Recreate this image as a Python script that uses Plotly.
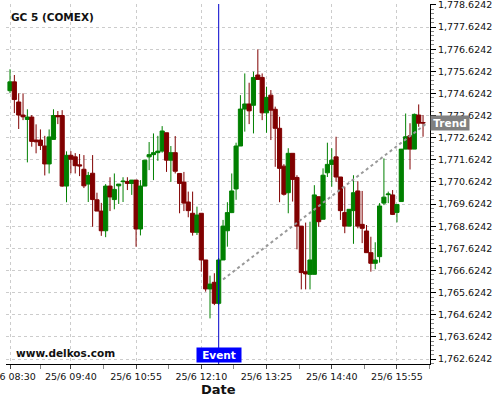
import pandas as pd
import plotly.graph_objects as go

# ---- data -------------------------------------------------------------
start_time = "2021-06-25 08:30"
n_candles = 96  # 5-minute candles 08:30 .. 16:25
times = pd.date_range(start_time, periods=n_candles, freq="5min")

opens = [1774.75, 1775.15, 1774.24, 1773.65, 1773.45, 1773.56, 1772.52, 1772.52, 1772.25, 1771.44,
         1772.55, 1773.63, 1773.63, 1770.44, 1771.83, 1771.76, 1771.40, 1771.20, 1770.53, 1771.02,
         1769.82, 1769.31, 1768.42, 1770.44, 1769.83, 1770.45, 1770.64, 1770.65, 1770.56, 1770.71,
         1768.50, 1770.44, 1771.76, 1771.86, 1771.95, 1772.02, 1772.85, 1771.61, 1771.95, 1771.01,
         1770.62, 1769.72, 1769.21, 1768.35, 1769.21, 1767.10, 1765.79, 1766.09, 1765.14, 1767.10,
         1768.42, 1769.24, 1770.31, 1772.25, 1773.92, 1774.15, 1774.09, 1775.46, 1775.35, 1773.75,
         1774.55, 1773.91, 1773.05, 1771.34, 1770.14, 1771.92, 1770.83, 1768.63, 1766.57, 1766.45,
         1766.45, 1769.96, 1768.94, 1771.04, 1771.42, 1771.76, 1770.85, 1769.24, 1768.63, 1769.33,
         1770.22, 1768.71, 1768.41, 1767.43, 1766.95, 1767.25, 1769.67, 1770.05, 1770.04, 1769.25,
         1769.74, 1772.11, 1772.71, 1772.11, 1773.65, 1773.31]
highs = [1775.72, 1775.46, 1774.63, 1774.63, 1773.91, 1773.65, 1773.23, 1773.00, 1772.71, 1773.00,
         1773.91, 1773.83, 1773.87, 1772.01, 1772.02, 1771.93, 1771.89, 1771.84, 1771.08, 1771.84,
         1770.14, 1769.68, 1770.53, 1770.84, 1771.01, 1770.53, 1770.84, 1770.84, 1770.71, 1770.71,
         1770.71, 1771.61, 1772.43, 1772.82, 1772.71, 1773.15, 1772.85, 1772.25, 1772.70, 1771.01,
         1771.08, 1770.19, 1770.19, 1769.51, 1769.21, 1767.10, 1766.39, 1766.50, 1767.19, 1768.91,
         1769.71, 1771.01, 1772.40, 1774.55, 1775.53, 1775.11, 1775.61, 1776.62, 1775.53, 1774.93,
         1774.78, 1774.03, 1773.57, 1771.43, 1772.15, 1771.92, 1770.93, 1768.63, 1768.79, 1768.83,
         1770.48, 1769.96, 1771.24, 1772.40, 1772.15, 1772.67, 1770.85, 1770.41, 1769.39, 1770.93,
         1770.66, 1770.22, 1768.68, 1768.15, 1767.90, 1769.67, 1771.69, 1770.19, 1770.26, 1769.61,
         1772.11, 1773.72, 1773.28, 1773.72, 1774.13, 1773.65]
lows = [1774.64, 1773.74, 1773.02, 1773.42, 1771.51, 1772.22, 1771.92, 1772.07, 1770.92, 1771.01,
        1772.55, 1773.24, 1770.41, 1769.71, 1771.02, 1771.01, 1770.89, 1770.35, 1769.72, 1768.60,
        1769.31, 1768.19, 1768.13, 1769.31, 1769.39, 1769.63, 1769.72, 1770.26, 1770.04, 1767.70,
        1768.21, 1770.44, 1771.16, 1770.71, 1771.58, 1771.95, 1771.08, 1770.63, 1771.01, 1769.21,
        1769.31, 1769.03, 1768.20, 1768.23, 1766.57, 1765.67, 1764.46, 1765.06, 1765.06, 1767.10,
        1767.70, 1769.22, 1769.82, 1772.25, 1772.90, 1773.24, 1772.82, 1775.26, 1773.42, 1772.85,
        1772.52, 1771.31, 1769.71, 1770.01, 1769.21, 1769.74, 1767.58, 1765.77, 1765.77, 1765.77,
        1766.45, 1768.60, 1768.94, 1770.85, 1770.41, 1770.63, 1768.91, 1768.31, 1768.63, 1767.83,
        1768.53, 1767.86, 1767.43, 1766.57, 1766.68, 1766.98, 1769.58, 1769.67, 1769.13, 1768.80,
        1769.74, 1772.11, 1771.19, 1772.11, 1773.12, 1772.67]
closes = [1775.15, 1774.35, 1773.65, 1773.57, 1773.56, 1772.46, 1772.44, 1772.27, 1771.44, 1772.66,
          1773.63, 1773.57, 1770.44, 1771.83, 1771.65, 1771.36, 1771.35, 1770.45, 1770.92, 1769.83,
          1769.31, 1768.42, 1770.44, 1769.95, 1770.29, 1770.53, 1770.66, 1770.56, 1770.71, 1768.50,
          1770.44, 1771.61, 1771.86, 1771.95, 1772.02, 1772.93, 1771.61, 1771.95, 1771.11, 1770.56,
          1769.67, 1769.33, 1768.35, 1769.13, 1767.10, 1765.79, 1766.01, 1765.14, 1767.10, 1768.63,
          1769.24, 1770.22, 1772.25, 1773.92, 1774.15, 1773.84, 1775.35, 1775.26, 1773.75, 1774.45,
          1773.87, 1773.05, 1771.24, 1770.07, 1771.92, 1770.74, 1768.63, 1766.53, 1766.47, 1767.10,
          1770.04, 1768.83, 1770.93, 1771.42, 1771.61, 1770.85, 1769.33, 1768.63, 1769.39, 1770.14,
          1768.63, 1768.53, 1767.43, 1766.95, 1767.10, 1769.54, 1769.94, 1770.08, 1769.16, 1769.61,
          1772.11, 1772.67, 1772.11, 1773.68, 1773.28, 1773.29]

x_tick_vals = ["2021-06-25 08:30", "2021-06-25 09:40", "2021-06-25 10:55", "2021-06-25 12:10",
               "2021-06-25 13:25", "2021-06-25 14:40", "2021-06-25 15:55"]
x_tick_text = ["25/6 08:30", "25/6 09:40", "25/6 10:55", "25/6 12:10",
               "25/6 13:25", "25/6 14:40", "25/6 15:55"]
x_minor_vals = ["2021-06-25 09:05", "2021-06-25 10:17:30", "2021-06-25 11:32:30",
                "2021-06-25 12:47:30", "2021-06-25 14:02:30", "2021-06-25 15:17:30",
                "2021-06-25 16:32:30"]
x_range = ["2021-06-25 08:25:24", "2021-06-25 16:33:00"]

y_range = [1762.398, 1778.669]
y_tick0 = 1762.6242

event_time = "2021-06-25 12:30"
trend_times = ["2021-06-25 12:35", "2021-06-25 16:30"]
trend_prices = [1766.22, 1773.30]

title_text = "GC 5 (COMEX)"
watermark = "www.delkos.com"
x_title = "Date"

FONT = "DejaVu Sans"

# ---- figure -----------------------------------------------------------
fig = go.Figure()

fig.add_trace(go.Candlestick(
    x=times, open=opens, high=highs, low=lows, close=closes,
    increasing=dict(line=dict(color="#008000", width=1), fillcolor="#008000"),
    decreasing=dict(line=dict(color="#800000", width=1), fillcolor="#800000"),
    whiskerwidth=0, showlegend=False, hoverinfo="skip",
))

fig.add_trace(go.Scatter(
    x=trend_times, y=trend_prices, mode="lines",
    line=dict(color="#999999", width=2, dash="dot"),
    showlegend=False, hoverinfo="skip",
))

# event line
fig.add_shape(type="line", xref="x", yref="paper", x0=event_time, x1=event_time,
              y0=0, y1=1, line=dict(color="#0000cc", width=1))

fig.add_annotation(x=event_time, xref="x", y=0, yref="paper", yanchor="bottom",
                   xanchor="center", text="<b>Event</b>", showarrow=False,
                   bgcolor="#0000ff", font=dict(family=FONT, size=10.5, color="white"),
                   width=42, height=12, borderpad=1, yshift=1)

fig.add_annotation(x=1, xref="paper", y=trend_prices[-1], yref="y", xanchor="left",
                   yanchor="middle", text="<b>Trend</b>", showarrow=False,
                   bgcolor="#808080", font=dict(family=FONT, size=10.5, color="white"),
                   width=36, height=12, borderpad=1)

fig.add_annotation(x=0, xref="paper", y=1, yref="paper", xanchor="left", yanchor="top",
                   text="<b>" + title_text + "</b>", showarrow=False, xshift=3, yshift=-5,
                   font=dict(family=FONT, size=10.5, color="#111111"))

fig.add_annotation(x=0, xref="paper", y=0, yref="paper", xanchor="left", yanchor="bottom",
                   text="<b>" + watermark + "</b>", showarrow=False, xshift=8, yshift=3,
                   font=dict(family=FONT, size=10.5, color="#111111"))

fig.add_annotation(x=0.5, xref="paper", y=0, yref="paper", xanchor="center", yanchor="top",
                   text="<b>" + x_title + "</b>", showarrow=False, yshift=-16,
                   font=dict(family=FONT, size=13, color="#111111"))

fig.update_layout(
    width=500, height=400,
    margin=dict(l=6, r=70, t=4, b=36, autoexpand=False),
    paper_bgcolor="white", plot_bgcolor="white",
    font=dict(family=FONT, size=9.5, color="#111111"),
    boxgap=0.05, boxgroupgap=0,
    showlegend=False,
    xaxis=dict(
        type="date", range=x_range, rangeslider=dict(visible=False),
        tickmode="array", tickvals=x_tick_vals, ticktext=x_tick_text,
        ticks="outside", ticklen=4, tickcolor="#444444",
        ticklabeloverflow="allow", automargin=False,
        showline=True, linecolor="black", linewidth=1,
        showgrid=True, gridcolor="#cccccc", griddash="3px,3px", gridwidth=1,
        minor=dict(tickmode="array", tickvals=x_minor_vals, ticks="outside",
                   ticklen=4, tickcolor="#888888", showgrid=False),
        zeroline=False,
    ),
    yaxis=dict(
        side="right", range=y_range, tick0=y_tick0, dtick=1, tickformat=",.4f",
        ticks="outside", ticklen=5, tickcolor="black",
        ticklabeloverflow="allow", automargin=False,
        showline=True, linecolor="black", linewidth=1,
        showgrid=True, gridcolor="#cccccc", griddash="3px,3px", gridwidth=1,
        minor=dict(tick0=y_tick0, dtick=0.2, ticks="outside", ticklen=3,
                   tickcolor="#888888", showgrid=False),
        zeroline=False,
    ),
)

fig.write_html("out.html", config={"displayModeBar": False},
               post_script="document.body.style.margin='0';")
